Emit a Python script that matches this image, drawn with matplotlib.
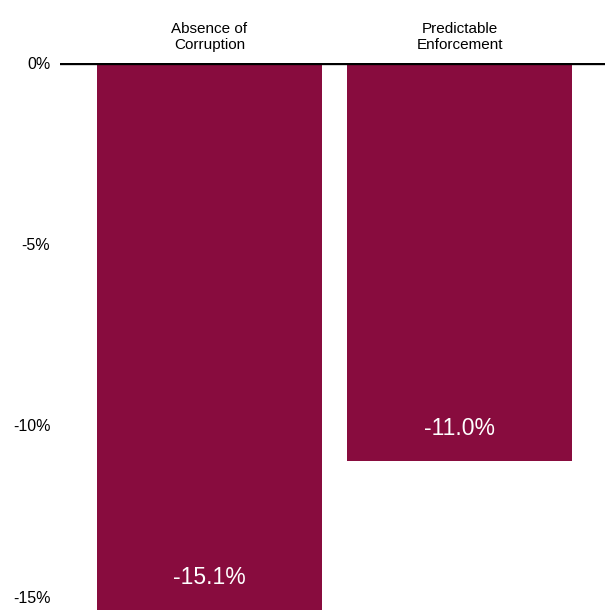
import matplotlib.pyplot as plt

categories = ["Absence of\nCorruption", "Predictable\nEnforcement"]
values = [-15.1, -11.0]
value_labels = ["-15.1%", "-11.0%"]
yticks = [0, -5, -10, -15]
ytick_labels = ["0%", "-5%", "-10%", "-15%"]

plt.rcParams["font.family"] = ["Liberation Sans", "DejaVu Sans"]

fig = plt.figure(figsize=(6.05, 6.13), dpi=100)
ax = fig.add_axes([60 / 605, 0, 545 / 605, 1 - 63 / 613])

x = list(range(len(categories)))
ax.bar(x, values, width=0.9, color="#880C3E", zorder=2)
ax.axhline(0, color="black", lw=2.4, zorder=3)

for xi, v, lab in zip(x, values, value_labels):
    ax.text(xi, v + 0.9, lab, ha="center", va="center", color="white", fontsize=16.5)

ax.set_xlim(-0.598, 1.582)
ax.set_ylim(-15.19, 0)
ax.set_yticks(yticks)
ax.set_yticklabels(ytick_labels, fontsize=11.5)
ax.get_yticklabels()[-1].set_va("bottom")
ax.xaxis.tick_top()
ax.set_xticks(x)
ax.set_xticklabels(categories, fontsize=11, linespacing=1.15)
ax.tick_params(axis="both", length=0)
ax.tick_params(axis="x", pad=8)
ax.tick_params(axis="y", pad=7)
for s in ax.spines.values():
    s.set_visible(False)

fig.savefig("out.png", dpi=100)
